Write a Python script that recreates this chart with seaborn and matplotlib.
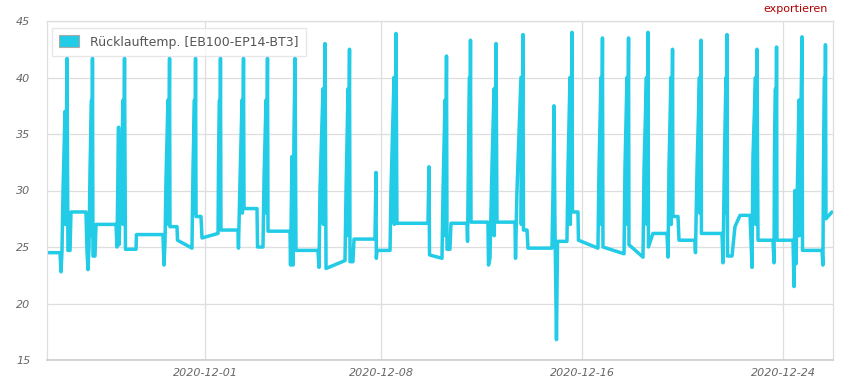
import matplotlib
matplotlib.use("Agg")
import matplotlib.pyplot as plt
from matplotlib.patches import Patch
import matplotlib.dates as mdates
import numpy as np
import pandas as pd
import seaborn as sns

# ---- data -------------------------------------------------------------
start = pd.Timestamp("2020-11-24 17:00")
# hours elapsed since start
hours = [
    0, 12.4, 13.4, 14.3, 15.3, 17.2, 17.7, 19.1, 20.0, 22.0, 22.9, 37.2,
    38.2, 39.1, 40.1, 41.1, 42.5, 42.8, 43.4, 43.9, 45.8, 46.8, 65.9,
    66.8, 68.3, 68.7, 70.6, 72.6, 72.8, 74.0, 74.9, 85.0, 85.4, 110.7,
    111.7, 112.7, 113.6, 115.5, 115.8, 117.0, 117.4, 124.1, 124.6, 138.4,
    139.4, 140.8, 141.1, 141.8, 142.3, 147.0, 148.0, 163.3,
    163.7, 164.7, 165.0, 165.6, 166.1, 182.3, 182.8,
    184.3, 186.2, 186.5, 187.6, 188.1, 200.5, 201.0, 206.2,
    207.2, 209.1, 209.4, 210.5, 211.0, 232.0, 232.5, 232.9,
    233.9, 234.9, 235.8, 236.8, 237.7, 258.7, 259.7,
    260.6, 263.5, 263.8, 265.4, 266.4, 284.5,
    285.5, 287.4, 287.6, 288.8, 289.3, 292.1, 293.1, 313.1, 314.1, 314.4, 315.1, 327.5,
    328.4, 331.3, 331.6, 333.2, 334.1, 363.7, 364.7, 365.2, 377.1,
    378.1, 380.0, 380.3, 381.4, 381.9, 384.7, 385.7, 401.0, 401.5,
    402.4, 403.4, 403.6, 404.3, 404.8, 421.0, 421.5, 422.9,
    424.8, 426.8, 427.0, 428.7, 429.6, 446.8, 447.3,
    448.7, 452.5, 452.8, 454.4, 454.9, 458.3, 459.2, 482.1,
    483.1, 484.0, 485.0, 486.4, 487.4, 496.4,
    497.4, 499.3, 499.6, 501.2, 501.7, 506.9, 507.4, 526.0,
    527.0, 528.9, 529.2, 530.3, 530.8, 550.9,
    551.8, 553.7, 554.0, 555.2, 555.6, 569.0,
    570.0, 572.3, 572.6, 573.8, 574.2, 578.5, 591.9, 592.9,
    593.8, 595.7, 596.0, 597.2, 597.6, 602.4, 603.4, 618.6, 619.1,
    620.6, 622.9, 623.2, 624.4, 624.8, 644.4, 645.4,
    646.8, 648.2, 648.5, 649.2, 649.7, 654.0, 656.8, 661.6, 671.2, 673.1,
    674.0, 676.4, 676.7, 677.8, 678.8, 693.1, 694.1,
    694.5, 695.5, 695.8, 696.5, 696.9, 712.2, 713.2,
    714.1, 715.1, 717.9, 718.2, 720.8, 721.3, 739.9, 740.8,
    741.3, 742.3, 742.6, 743.2, 743.7, 749.4,
]
temps = [
    24.5, 24.5, 22.8, 24.6, 30.0, 37.0, 27.0, 41.7, 24.7, 24.7, 28.1, 28.1,
    24.6, 23.0, 25.0, 32.0, 38.0, 26.0, 41.7, 24.2, 24.2, 27.0, 27.0,
    25.0, 35.6, 25.2, 30.0, 38.0, 27.0, 41.7, 24.8, 24.8, 26.1, 26.1,
    23.4, 25.5, 31.0, 38.0, 27.0, 41.7, 26.8, 26.8, 25.6, 24.9,
    32.0, 38.0, 28.0, 41.7, 27.7, 27.7, 25.8, 26.2,
    32.0, 38.0, 28.0, 41.7, 26.5, 26.5, 24.9,
    31.0, 38.0, 28.0, 41.7, 28.4, 28.4, 25.0, 25.0,
    31.0, 38.0, 28.0, 41.7, 26.4, 26.4, 23.4, 26.0,
    33.0, 23.4, 35.0, 41.7, 24.7, 24.7, 23.2,
    30.0, 39.0, 27.0, 43.0, 23.1, 23.8,
    30.0, 39.0, 26.0, 42.5, 23.7, 23.7, 25.7, 25.7, 31.6, 24.0, 24.7, 24.7,
    30.0, 40.0, 27.0, 43.9, 27.1, 27.1, 32.1, 24.3, 24.0,
    30.0, 38.0, 26.0, 41.9, 24.8, 24.8, 27.1, 27.1, 25.5,
    33.0, 40.0, 28.0, 43.3, 27.2, 27.2, 23.4, 24.0,
    32.0, 39.0, 26.0, 43.0, 27.2, 27.2, 24.0,
    30.0, 40.0, 27.0, 43.8, 26.5, 26.5, 24.9, 24.9,
    30.0, 37.5, 26.5, 16.8, 25.5, 25.5,
    32.0, 40.0, 27.0, 44.0, 28.1, 28.1, 25.6, 24.9,
    32.0, 40.0, 27.0, 43.5, 25.0, 24.4,
    32.0, 40.0, 27.0, 43.5, 25.2, 24.1,
    32.0, 40.0, 27.0, 44.0, 25.0, 26.2, 26.2, 24.1,
    32.0, 40.0, 27.0, 42.5, 27.7, 27.7, 25.6, 25.6, 24.5,
    32.0, 40.0, 28.0, 43.3, 26.2, 26.2, 23.6,
    33.0, 40.0, 28.0, 43.8, 24.2, 24.2, 26.8, 27.8, 27.8, 23.2,
    33.0, 40.0, 27.0, 42.5, 25.6, 25.6, 23.6,
    33.0, 39.0, 28.0, 42.7, 25.6, 25.6, 21.5,
    30.0, 23.5, 38.0, 26.0, 43.6, 24.7, 24.7, 23.4,
    32.0, 40.0, 28.0, 42.9, 27.5, 28.1,
]
series_label = "Rücklauftemp. [EB100-EP14-BT3]"
x_tick_dates = ["2020-12-01", "2020-12-08", "2020-12-16", "2020-12-24"]
y_ticks = [15, 20, 25, 30, 35, 40, 45]
x_end = "2020-12-25 23:24"

df = pd.DataFrame({
    "time": start + pd.to_timedelta(hours, unit="h"),
    "temp": temps,
})

# ---- style ------------------------------------------------------------
sns.set_style("white")
plt.rcParams["font.family"] = ["DejaVu Sans"]

line_color = "#22CBE6"
grid_color = "#dedede"
text_color = "#666666"

fig = plt.figure(figsize=(8.51, 3.92), dpi=100)
ax = fig.add_axes([47 / 851, 1 - 360 / 392, (833 - 47) / 851, (360 - 21) / 392])

sns.lineplot(data=df, x="time", y="temp", ax=ax, color=line_color,
             linewidth=2.5, sort=False, estimator=None, legend=False)

ax.set_xlim(start, pd.Timestamp(x_end))
ax.set_ylim(15, 45)
ax.set_yticks(y_ticks)
ax.set_xticks(pd.to_datetime(x_tick_dates))
ax.xaxis.set_major_formatter(mdates.DateFormatter("%Y-%m-%d"))

ax.grid(True, color=grid_color, linewidth=0.9)
ax.set_axisbelow(True)
for side in ["top", "right", "left"]:
    ax.spines[side].set_color(grid_color)
    ax.spines[side].set_linewidth(0.9)
ax.spines["bottom"].set_color("#cccccc")
ax.spines["bottom"].set_linewidth(1.2)

ax.tick_params(axis="both", length=0, colors=text_color, labelsize=8)
ax.tick_params(axis="y", pad=12)
ax.tick_params(axis="x", pad=6)
for lab in ax.get_xticklabels() + ax.get_yticklabels():
    lab.set_fontstyle("italic")
ax.set_xlabel("")
ax.set_ylabel("")

handle = Patch(facecolor=line_color, edgecolor="#aaaaaa", linewidth=0.8)
leg = ax.legend([handle], [series_label], loc="upper left",
                bbox_to_anchor=(0.006, 0.98), frameon=True, fancybox=False,
                fontsize=9, handlelength=1.6, handleheight=1.1,
                borderpad=0.6, handletextpad=0.9, borderaxespad=0.0)
leg.get_frame().set_edgecolor("#e0e0e0")
leg.get_frame().set_linewidth(0.9)
for t in leg.get_texts():
    t.set_color("#555555")

fig.text(828 / 851, 1 - 12 / 392, "exportieren", ha="right", va="baseline",
         color="#b00000", fontsize=8)

fig.savefig("out.png", dpi=100)
